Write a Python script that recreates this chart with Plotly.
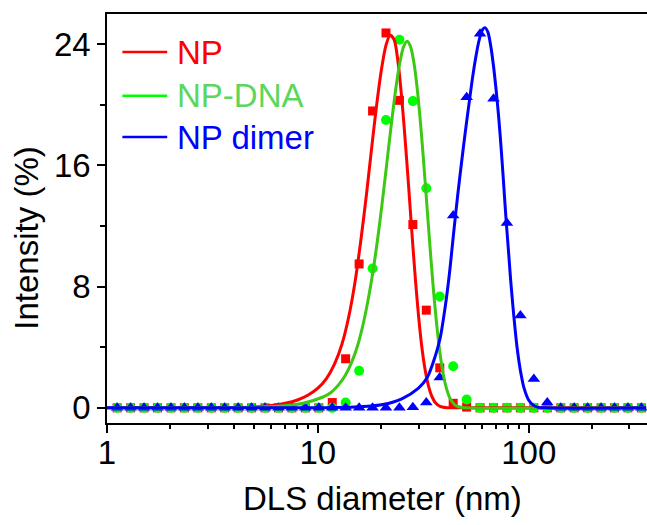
import plotly.graph_objects as go

# ---------------- data ----------------
bins_nm = [1.117, 1.294, 1.499, 1.736, 2.010, 2.328, 2.696, 3.122, 3.615, 4.187,
           4.849, 5.615, 6.503, 7.531, 8.721, 10.10, 11.70, 13.54, 15.69, 18.17,
           21.04, 24.36, 28.21, 32.67, 37.84, 43.82, 50.75, 58.77, 68.06, 78.82,
           91.28, 105.7, 122.4, 141.8, 164.2, 190.1, 220.2, 255.0, 295.3, 342.0]

np_int = [0, 0, 0, 0, 0, 0, 0, 0, 0, 0,
          0, 0, 0, 0, 0, 0, 0.35, 3.24, 9.5, 19.6,
          24.75, 20.3, 12.1, 6.45, 2.64, 0.3, 0.05, 0, 0, 0,
          0, 0, 0, 0, 0, 0, 0, 0, 0, 0]

npdna_int = [0, 0, 0, 0, 0, 0, 0, 0, 0, 0,
             0, 0, 0, 0, 0, 0, 0, 0.35, 2.45, 9.2,
             19.0, 24.3, 20.25, 14.5, 7.35, 2.75, 0.55, 0, 0, 0,
             0, 0, 0, 0, 0, 0, 0, 0, 0, 0]

dimer_int = [0, 0, 0, 0, 0, 0, 0, 0, 0, 0,
             0, 0, 0, 0, 0, 0, 0, 0, 0, 0,
             0, 0, 0.04, 0.35, 2.0, 12.7, 20.5, 24.7, 20.4, 12.2,
             6.1, 1.9, 0.35, 0, 0, 0, 0, 0, 0, 0]

# fitted curves
np_fit_x = [1, 4, 5, 6, 7, 8, 9, 10, 11, 12, 13, 14, 15, 16, 17, 18, 19, 20, 21, 22,
            23, 24, 25, 26, 27, 28, 29, 30, 31, 32, 33, 34, 35, 36, 38, 40, 45, 360]
np_fit_y = [0, 0.02, 0.06, 0.15, 0.3, 0.52, 0.85, 1.3, 1.95, 2.9, 4.2, 6.0, 8.3, 11.1, 14.1, 17.2, 20.0, 22.3, 23.9, 24.6,
            24.3, 22.8, 20.4, 17.5, 14.4, 11.3, 8.5, 6.1, 4.2, 2.8, 1.8, 1.1, 0.65, 0.36, 0.1, 0.02, 0, 0]

npdna_fit_x = [1, 4, 6.5, 8.5, 10.5, 11.5, 12.5, 13.5, 14.5, 15.5, 16.5, 17.5, 18.5, 19.5, 20.5, 21.5, 22.5, 23.5, 24.5, 25.5,
               26.5, 27.5, 28.5, 29.5, 30.5, 31.5, 32.5, 33.5, 34.5, 35.5, 36.5, 37.5, 38.5, 39.5, 40.5, 41.5, 42.5, 44.5, 46.5, 50, 360]
npdna_fit_y = [0, 0.02, 0.1, 0.3, 0.7, 1.0, 1.5, 2.15, 3.05, 4.2, 5.7, 7.5, 9.55, 11.86, 14.33, 16.82, 19.17, 21.23, 22.83, 23.85,
               24.2, 23.85, 22.83, 21.23, 19.17, 16.82, 14.33, 11.86, 9.53, 7.44, 5.65, 4.16, 2.98, 2.07, 1.40, 0.92, 0.58, 0.22, 0.07, 0.01, 0]

dimer_fit_x = [1, 10, 15, 20, 25, 30, 33, 36, 38, 40, 42, 44, 46, 48, 50, 52, 54, 56, 58, 60,
               62, 64, 66, 68, 70, 72, 74, 76, 78, 80, 82, 84, 86, 88, 90, 92, 95, 100, 105, 110, 120, 360]
dimer_fit_y = [0, 0.01, 0.05, 0.2, 0.6, 1.3, 2.0, 3.4, 4.6, 6.5, 8.8, 11.5, 14.0, 16.2, 18.2, 20.0, 21.7, 23.1, 24.2, 24.9,
               25.1, 24.8, 23.9, 22.6, 21.0, 19.2, 17.1, 14.8, 12.5, 10.5, 8.5, 6.8, 5.3, 4.0, 3.0, 2.2, 1.3, 0.5, 0.18, 0.05, 0, 0]

series_names = ["NP", "NP-DNA", "NP dimer"]
line_colors = ["#FF0000", "#3CC814", "#0000FF"]
marker_colors = ["#FF0000", "#00FF00", "#0000FF"]
legend_line_colors = ["#FF0000", "#00FF00", "#0000FF"]
legend_text_colors = ["#FF0000", "#5CD65C", "#0000FF"]
symbols = ["square", "circle", "triangle-up"]
marker_sizes = [9, 10, 11]

x_tick_vals = [1, 10, 100]
x_tick_text = ["1", "10", "100"]
x_minor_vals = [2, 3, 4, 5, 6, 7, 8, 9, 20, 30, 40, 50, 60, 70, 80, 90, 200, 300]
y_tick_vals = [0, 8, 16, 24]
y_minor_vals = [4, 12, 20]

FONT = "Liberation Sans, Arial, sans-serif"

fig = go.Figure()

points = [np_int, npdna_int, dimer_int]
fits = [(np_fit_x, np_fit_y), (npdna_fit_x, npdna_fit_y), (dimer_fit_x, dimer_fit_y)]

for i in range(3):
    fig.add_trace(go.Scatter(
        x=bins_nm, y=points[i], mode="markers", showlegend=False,
        marker=dict(symbol=symbols[i], size=marker_sizes[i], color=marker_colors[i], line=dict(width=0)),
    ))
for i in range(3):
    fig.add_trace(go.Scatter(
        x=fits[i][0], y=fits[i][1], mode="lines", showlegend=False,
        line=dict(color=line_colors[i], width=3, shape="spline", smoothing=0.8),
    ))

# manual legend
leg_y = [0.907, 0.800, 0.699]
for i in range(3):
    fig.add_shape(type="line", xref="paper", yref="paper",
                  x0=0.0285, x1=0.1115, y0=leg_y[i], y1=leg_y[i],
                  line=dict(color=legend_line_colors[i], width=2.5))
    fig.add_annotation(xref="paper", yref="paper", x=0.126, y=leg_y[i],
                       text=series_names[i], showarrow=False, xanchor="left", yanchor="middle",
                       font=dict(family=FONT, size=33, color=legend_text_colors[i]))

# axis titles
fig.add_annotation(xref="paper", yref="paper", x=0.511, y=-0.185, text="DLS diameter (nm)",
                   showarrow=False, xanchor="center", yanchor="middle",
                   font=dict(family=FONT, size=33, color="black"))
fig.add_annotation(xref="paper", yref="paper", x=-0.149, y=0.452, text="Intensity (%)",
                   showarrow=False, xanchor="center", yanchor="middle", textangle=-90,
                   font=dict(family=FONT, size=33, color="black"))

fig.update_layout(
    width=647, height=525,
    margin=dict(l=107, r=0, t=14, b=102),
    paper_bgcolor="white", plot_bgcolor="white",
    font=dict(family=FONT, size=33, color="black"),
    xaxis=dict(
        type="log", range=[0, 2.5607],
        tickmode="array", tickvals=x_tick_vals, ticktext=x_tick_text,
        ticks="outside", ticklen=8, tickwidth=1.5, tickcolor="black",
        showline=True, linecolor="black", linewidth=1.5, mirror=True,
        showgrid=False, zeroline=False, ticklabelstandoff=-8,
        tickfont=dict(family=FONT, size=33),
        minor=dict(tickmode="array", tickvals=x_minor_vals, ticks="outside",
                   ticklen=4, tickwidth=1.5, tickcolor="black", showgrid=False),
    ),
    yaxis=dict(
        range=[-1, 26],
        tickmode="array", tickvals=y_tick_vals,
        ticks="outside", ticklen=8, tickwidth=1.5, tickcolor="black",
        showline=True, linecolor="black", linewidth=1.5, mirror=False,
        showgrid=False, zeroline=False,
        tickfont=dict(family=FONT, size=33),
        minor=dict(tickmode="array", tickvals=y_minor_vals, ticks="outside",
                   ticklen=5, tickwidth=1.5, tickcolor="black", showgrid=False),
    ),
)

fig.write_html("out.html")
